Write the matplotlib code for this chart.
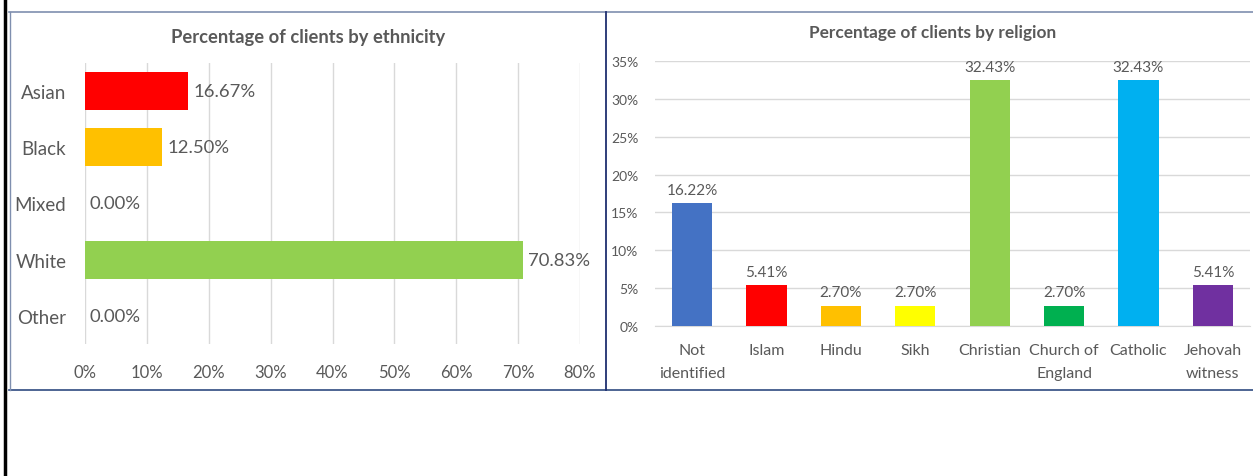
import matplotlib.pyplot as plt
from matplotlib.lines import Line2D
from matplotlib.ticker import PercentFormatter

plt.rcParams['font.family'] = ['Lato', 'DejaVu Sans']

# ethnicity chart
eth_labels = ["Asian", "Black", "Mixed", "White", "Other"]
eth_values = [16.67, 12.50, 0.00, 70.83, 0.00]
eth_colors = ["#FF0000", "#FFC000", "#92D050", "#92D050", "#92D050"]

# religion chart
rel_labels = ["Not\nidentified", "Islam", "Hindu", "Sikh", "Christian",
              "Church of\nEngland", "Catholic", "Jehovah\nwitness"]
rel_values = [16.22, 5.41, 2.70, 2.70, 32.43, 2.70, 32.43, 5.41]
rel_colors = ["#4472C4", "#FF0000", "#FFC000", "#FFFF00", "#92D050",
              "#00B050", "#00B0F0", "#7030A0"]

W, H = 1253, 477
txt = "#595959"
grid = "#D9D9D9"

fig = plt.figure(figsize=(W / 100, H / 100), dpi=100)


def px(x0, y0, x1, y1):
    return [x0 / W, 1 - y1 / H, (x1 - x0) / W, (y1 - y0) / H]


# frame lines
def hline(y, x0, x1, color, lw):
    fig.add_artist(Line2D([x0 / W, x1 / W], [1 - y / H, 1 - y / H], color=color, lw=lw))


def vline(x, y0, y1, color, lw):
    fig.add_artist(Line2D([x / W, x / W], [1 - y0 / H, 1 - y1 / H], color=color, lw=lw))


vline(4.5, 0, H, "black", 2.5)
hline(13, 9, W, "#7F8FAF", 1.2)
hline(391, 9, W, "#2F4A80", 1.2)
vline(9.5, 13, 391, "#7F8FAF", 1.0)
vline(606, 13, 391, "#1F2F70", 1.3)

# left chart
ax1 = fig.add_axes(px(85, 64, 580, 345))
y = range(len(eth_labels))
ax1.barh(y, eth_values, height=0.68, color=eth_colors, zorder=3)
ax1.set_ylim(4.5, -0.5)
ax1.set_xlim(0, 80)
ax1.set_xticks(range(0, 81, 10))
ax1.xaxis.set_major_formatter(PercentFormatter(decimals=0))
ax1.set_yticks(list(y))
ax1.set_yticklabels(eth_labels)
ax1.grid(axis="x", color=grid, lw=1, zorder=0)
for s in ax1.spines.values():
    s.set_visible(False)
ax1.tick_params(axis="both", length=0, colors=txt)
ax1.tick_params(axis="y", labelsize=13.5, pad=13.5)
ax1.tick_params(axis="x", labelsize=12, pad=14.5)
for i, v in enumerate(eth_values):
    ax1.text(v + 0.8, i, f"{v:.2f}%", va="center", ha="left", fontsize=13.3, color=txt)
fig.text(308 / W, 1 - 37 / H, "Percentage of clients by ethnicity", ha="center", va="center",
         fontsize=13.2, fontweight="bold", color=txt)

# right chart
ax2 = fig.add_axes(px(655, 62, 1250, 327))
x = range(len(rel_labels))
ax2.bar(x, rel_values, width=0.54, color=rel_colors, zorder=3)
ax2.set_xlim(-0.5, len(rel_labels) - 0.5)
ax2.set_ylim(0, 35)
ax2.set_yticks(range(0, 36, 5))
ax2.yaxis.set_major_formatter(PercentFormatter(decimals=0))
ax2.set_xticks(list(x))
ax2.set_xticklabels(rel_labels, linespacing=1.8)
ax2.grid(axis="y", color=grid, lw=1, zorder=0)
for s in ax2.spines.values():
    s.set_visible(False)
ax2.spines["bottom"].set_visible(True)
ax2.spines["bottom"].set_color(grid)
ax2.tick_params(axis="both", length=0, colors=txt)
ax2.tick_params(axis="y", labelsize=10, pad=12)
ax2.tick_params(axis="x", labelsize=11.5, pad=12.5)
for i, v in enumerate(rel_values):
    ax2.text(i, v + 0.8, f"{v:.2f}%", va="bottom", ha="center", fontsize=11, color=txt)
fig.text(933 / W, 1 - 33 / H, "Percentage of clients by religion", ha="center", va="center",
         fontsize=12.4, fontweight="bold", color=txt)

fig.savefig("out.png", dpi=100)
